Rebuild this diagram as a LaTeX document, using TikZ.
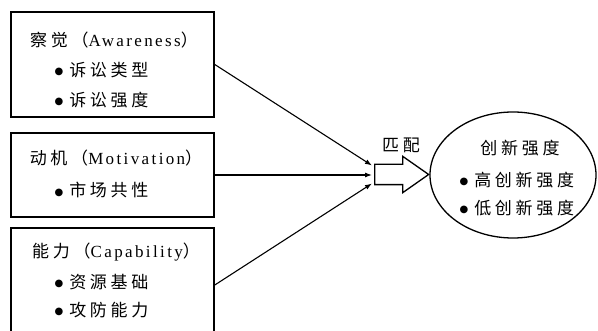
\documentclass[tikz,border=0pt]{standalone}
\usepackage{fontspec}
\setmainfont{Liberation Serif}[LetterSpace=14]
\newfontfamily\cjk{Noto Sans CJK SC}[LetterSpace=22]
\newfontfamily\dotfont{DejaVu Sans}
\usepackage{tikz}
\usetikzlibrary{arrows.meta,positioning,shapes.geometric,shapes.arrows,calc}

\newcommand{\itm}[1]{\raisebox{1.5pt}{\dotfont\fontsize{10}{10}\selectfont ●}\hspace{6pt}{\cjk #1}}

\begin{document}
\begin{tikzpicture}[x=1pt,y=-1pt,
  every node/.style={font=\fontsize{17}{19}\selectfont},
  factorbox/.style={draw, line width=1.6pt, minimum width=203pt, inner sep=0pt},
  link/.style={-{Latex[length=7pt,width=5pt]}, line width=1.1pt}]
  \useasboundingbox (0,0) rectangle (598,331);

  % Three factor boxes
  \node[factorbox, minimum height=105pt] (aware) at (112.5,64.5) {};
  \node (awaretitle) at (114,40) {{\cjk 察觉（}Awareness{\cjk ）}};
  \node[anchor=west] (suittype) at (51,70) {\itm{诉讼类型}};
  \node[anchor=west] (suitint) at (51,100) {\itm{诉讼强度}};

  \node[factorbox, minimum height=84pt] (motiv) at (112.5,175) {};
  \node (motivtitle) at (116,158) {{\cjk 动机（}Motivation{\cjk ）}};
  \node[anchor=west] (market) at (51,190) {\itm{市场共性}};

  \node[factorbox, minimum height=114pt] (capab) at (112.5,285) {};
  \node (capabtitle) at (116,252) {{\cjk 能力（}Capability{\cjk ）}};
  \node[anchor=west] (resource) at (51,282) {\itm{资源基础}};
  \node[anchor=west] (defense) at (51,310) {\itm{攻防能力}};

  % Matching arrow
  \node[single arrow, draw, line width=1.3pt, inner xsep=0pt, inner ysep=9.5pt,
        single arrow head extend=8pt, single arrow tip angle=70,
        minimum height=54pt, anchor=tail] (match) at (374,174.5) {};
  \node (matchlbl) at (401,145) {\cjk 匹配};
  \coordinate (inA) at ($(match.tail)+(-2,-9)$);
  \coordinate (inM) at ($(match.tail)+(-2,0.5)$);
  \coordinate (inC) at ($(match.tail)+(-2,9)$);

  % Outcome ellipse
  \node[ellipse, draw, line width=1.3pt, minimum width=166pt, minimum height=126pt,
        inner sep=0pt] (innov) at (513,175) {};
  \node (innovtitle) at (520,148) {\cjk 创新强度};
  \node[anchor=west] (high) at (456,180) {\itm{高创新强度}};
  \node[anchor=west] (low) at (456,208) {\itm{低创新强度}};

  % Links
  \draw[link] (aware.east) -- (inA);
  \draw[link] (motiv.east) -- (inM);
  \draw[link] (capab.east) -- (inC);
\end{tikzpicture}
\end{document}
